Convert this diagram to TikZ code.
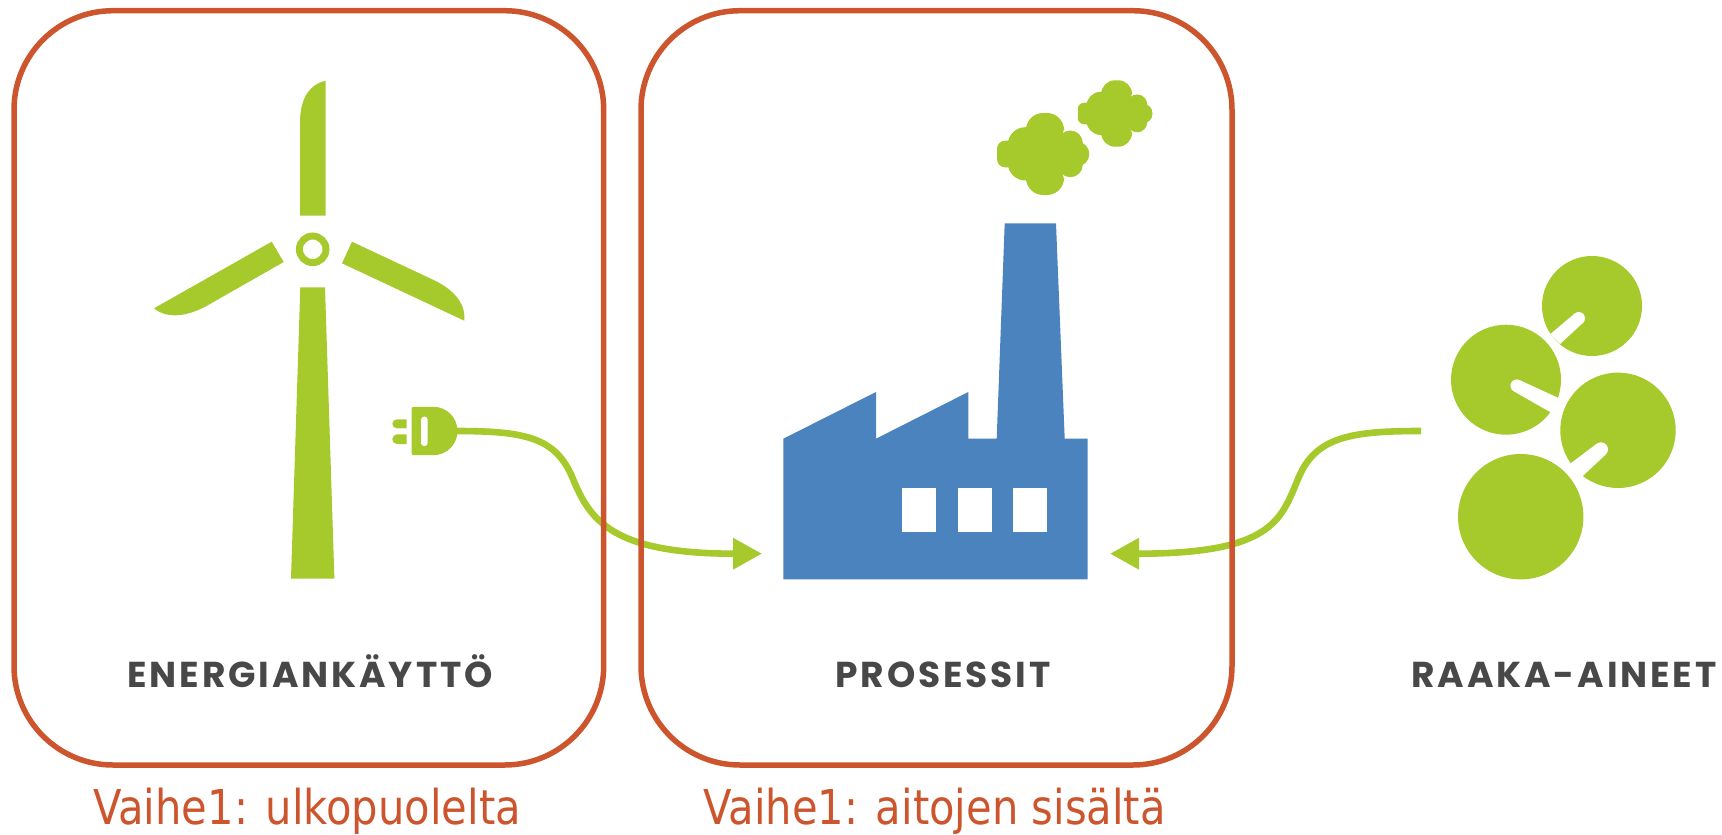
\documentclass[tikz,border=0pt]{standalone}
\usepackage{fontspec}
\usetikzlibrary{arrows.meta, calc}

\setmainfont{Liberation Sans}
\newfontfamily\headfont[LetterSpace=8]{Poppins}
\newfontfamily\notefont[FakeStretch=0.868]{DejaVu Sans}

\definecolor{leafgreen}{HTML}{A6CA2C}
\definecolor{factoryblue}{HTML}{4A83BD}
\definecolor{fencered}{HTML}{CD552D}
\definecolor{headgray}{HTML}{484848}

\tikzset{
  fence/.style={draw=fencered, line width=5.5pt, rounded corners=99pt},
  wire/.style={draw=leafgreen, line width=6.6pt, -{Triangle[length=29pt, width=30pt, fill=leafgreen]}},
  headlabel/.style={text=headgray, font=\headfont\bfseries\fontsize{36}{40}\selectfont, anchor=base},
  notelabel/.style={text=fencered, font=\notefont\fontsize{48}{54}\selectfont, anchor=base}
}

\begin{document}
\begin{tikzpicture}[x=1pt, y=-1pt]

\useasboundingbox (0,0) rectangle (1722,835);

% Wind turbine
        \fill[leafgreen] (300,215.7) -- (300,123) .. controls (300,100) and (308,85) .. (325.7,80.7) -- (325.7,215.7) -- cycle;
        \fill[leafgreen] (271.7,241.7) -- (283.7,262) -- (210,304) .. controls (190,316) and (168,320) .. (154,308.3) -- cycle;
        \fill[leafgreen] (352,241.7) -- (342,263.3) -- (464.3,320.7) .. controls (466,302) and (452,288) .. (430,278.3) -- cycle;
        \fill[leafgreen] (300.3,287.3) -- (325,287.3) -- (334.4,578.6) -- (291,578.6) -- cycle;
        \draw[leafgreen, line width=7pt] (312.7,249.3) circle (13.3);

% Plug
        \fill[leafgreen] (413.7,406.8) -- (433.3,406.8) .. controls (446.7,406.8) and (457.5,417.6) .. (457.5,431)
          .. controls (457.5,444.4) and (446.7,455.2) .. (433.3,455.2) -- (413.7,455.2)
          .. controls (412.6,455.2) and (411.7,454.3) .. (411.7,453.2) -- (411.7,408.8)
          .. controls (411.7,407.7) and (412.6,406.8) .. (413.7,406.8) -- cycle;
        \fill[white, rounded corners=3pt] (421,416.7) rectangle (427.7,446);
        \fill[leafgreen] (406.7,419.3) -- (397,419.3) .. controls (394.5,419.3) and (392.3,421.3) .. (392.3,423.8)
          .. controls (392.3,426.3) and (394.5,428.3) .. (397,428.3) -- (406.7,428.3) -- cycle;
        \fill[leafgreen] (406.7,434.3) -- (397,434.3) .. controls (394.5,434.3) and (392.3,436.5) .. (392.3,439.2)
          .. controls (392.3,441.9) and (394.5,444) .. (397,444) -- (406.7,444) -- cycle;

% Factory
        \fill[factoryblue] (783.3,579.3) -- (783.3,438.7) -- (876,392) -- (876,438.7) -- (968.3,392) -- (968.3,438.7)
          -- (996.7,438.7) -- (1004.7,223.3) -- (1056,223.3) -- (1064.7,438.7) -- (1087.7,438.7) -- (1087.7,579.3) -- cycle;
        \foreach \wx in {902,958,1013} {
          \fill[white] (\wx,488) rectangle ++(34,44);
        }

% Smoke
        \foreach \cx/\cy/\cs in {1043/154/1, 1115/113.5/0.81} {
          \begin{scope}[shift={(\cx,\cy)}, scale=\cs]
            \fill[leafgreen, rounded corners=\cs*17pt] (-17,-41) rectangle (21,-10);
            \fill[leafgreen, rounded corners=\cs*17pt] (-17,10) rectangle (21,41);
            \fill[leafgreen] (-17.7,-9.3) circle (17.5);
            \fill[leafgreen] (-17.7,9) circle (17.5);
            \fill[leafgreen] (27.3,-11) circle (12.5);
            \fill[leafgreen] (27.3,10.7) circle (12.5);
            \fill[leafgreen] (33.8,0) circle (12.5);
            \fill[leafgreen, rounded corners=\cs*8pt] (-46,-13.3) rectangle (-25,13.3);
            \fill[leafgreen] (-20,-15) rectangle (30,15);
          \end{scope}
        }

% Raw material pellets
        \fill[leafgreen] (1592,306) circle (50);
        \fill[white] (1550,334.3) -- (1574.6,313.6) -- (1582.8,323) -- (1560,344) -- cycle;
        \fill[white] (1578.7,318.3) circle (6.3);
        \fill[leafgreen] (1506,379.7) circle (55);
        \fill[white] (1558.5,398) -- (1519.6,380.1) -- (1513.8,391.3) -- (1550,412) -- (1562,412) -- cycle;
        \fill[white] (1516.7,385.7) circle (6.3);
        \fill[leafgreen] (1618,430.3) circle (57.7);
        \fill[white] (1570.7,463.3) -- (1596.5,443.9) -- (1605.5,454.7) -- (1582.7,476) -- (1570,476) -- cycle;
        \fill[white] (1601,449.3) circle (7);
        \fill[leafgreen] (1520.7,516.7) circle (62.7);

% Connectors
        \coordinate (plugout) at (455,431);
        \coordinate (plugbend) at (573,479);
        \coordinate (factoryleft) at (762,553.7);
        \coordinate (rawout) at (1421,431);
        \coordinate (rawbend) at (1298,479);
        \coordinate (factoryright) at (1110,553.7);
        \path[wire] (plugout) .. controls (525,431) and (556,437) .. (plugbend)
          .. controls (590,520) and (612,553.7) .. (factoryleft);
        \path[wire] (rawout) .. controls (1350,431) and (1315,437) .. (rawbend)
          .. controls (1281,520) and (1272,553.7) .. (factoryright);

% Fences
        \draw[fence] (14,10.7) rectangle (603.7,765);
        \draw[fence] (641,10.7) rectangle (1232,765);

% Labels
        \node[headlabel] (energy) at (310,687.5) {ENERGIANKÄYTTÖ};
        \node[headlabel] (process) at (943,687.5) {PROSESSIT};
        \node[headlabel] (raw) at (1564,687.5) {RAAKA-AINEET};
        \node[notelabel] (outside) at (307,824) {Vaihe1: ulkopuolelta};
        \node[notelabel] (inside) at (934.5,824) {Vaihe1: aitojen sisältä};

      \end{tikzpicture}
\end{document}
